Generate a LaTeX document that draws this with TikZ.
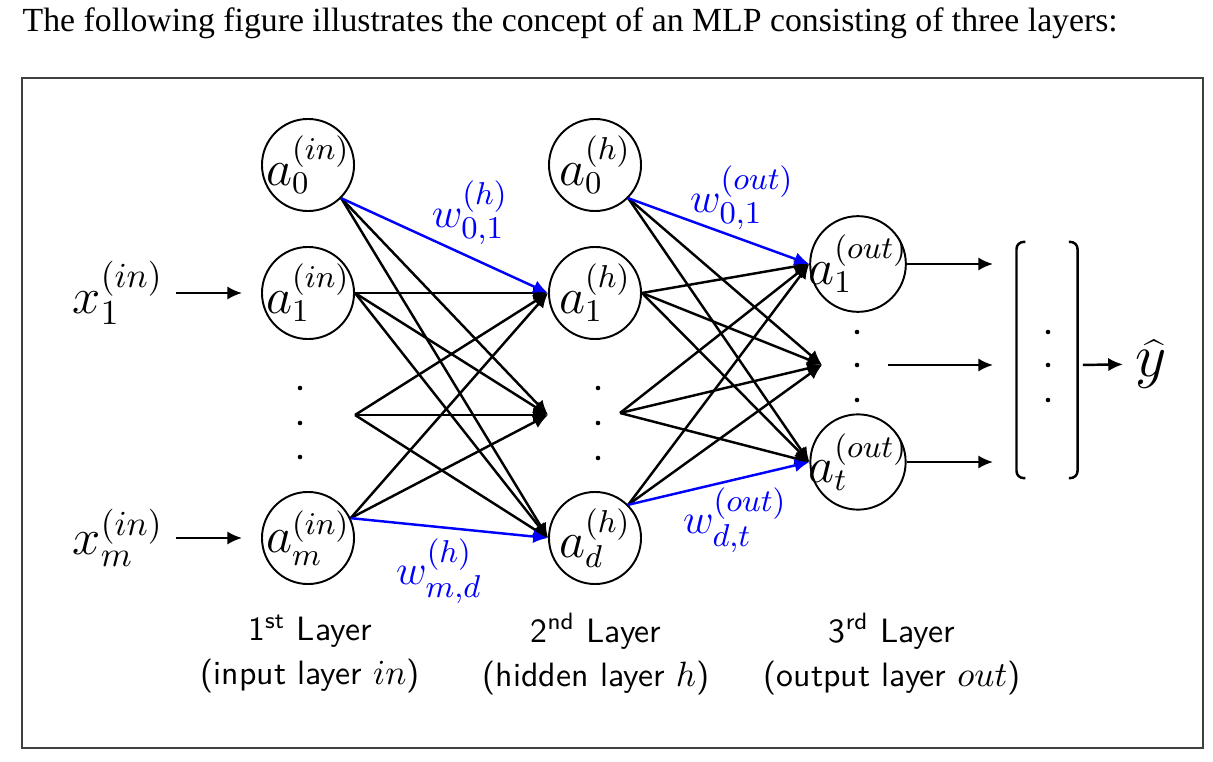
\documentclass[tikz,border=0pt]{standalone}
\usepackage{fontspec}
\setmainfont{Liberation Serif}
\usepackage{tikz}
\usetikzlibrary{arrows.meta}

\tikzstyle{neuron} = [circle, draw=black, line width=0.55pt, minimum size=0.92cm, inner sep=-2pt, font=\fontsize{13.5}{16}\selectfont]
\tikzstyle{arrow} = [line width=0.7pt,->,>={Latex[length=4.2pt,width=3.8pt]}]
\tikzstyle{wlabel} = [text=blue, font=\fontsize{13}{15}\selectfont]
\tikzstyle{layer} = [align=center, font=\sffamily\fontsize{9.6}{12.5}\selectfont]

\begin{document}
\begin{tikzpicture}[x=0.01cm,y=-0.01cm]
\useasboundingbox (0,0) rectangle (1213,761);

% Caption and frame
\node (title) [anchor=base west, inner sep=0pt, font=\fontsize{9.6}{12}\selectfont] at (22,32) {The following figure illustrates the concept of an MLP consisting of three layers:};
\draw [line width=0.5pt, draw=black!75] (22,78) rectangle (1203,748);

% Inputs
\node (x1) [font=\fontsize{14}{16}\selectfont] at (118,293) {$x_1^{(in)}$};
\node (xm) [font=\fontsize{14}{16}\selectfont] at (118,538) {$x_m^{(in)}$};

% Neurons
\node (i0) [neuron] at (308,165) {$a_0^{(in)}$};  % input layer
\node (i1) [neuron] at (308,293) {$a_1^{(in)}$};
\node (im) [neuron] at (308,538) {$a_m^{(in)}$};
\node (h0) [neuron] at (595,165) {$a_0^{(h)}$};   % hidden layer
\node (h1) [neuron] at (595,293) {$a_1^{(h)}$};
\node (hd) [neuron] at (595,538) {$a_d^{(h)}$};
\node (o1) [neuron] at (858,264) {$a_1^{(out)}$}; % output layer
\node (ot) [neuron] at (858,462) {$a_t^{(out)}$};

% Hidden middle units (shown by dots)
\coordinate (ifan) at (355,415);
\coordinate (hin) at (548,415);
\coordinate (hfan) at (620,413);
\coordinate (oin) at (822,365);

% Dots
\fill (300,388) circle (0.65pt) (300,423) circle (0.65pt) (300,457) circle (0.65pt);
\fill (598,388) circle (0.65pt) (598,423) circle (0.65pt) (598,458) circle (0.65pt);
\fill (857,332) circle (0.65pt) (857,365) circle (0.65pt) (857,400) circle (0.65pt);

% Input arrows
\draw [arrow, shorten >=5.4pt] (x1) -- (i1);
\draw [arrow, shorten >=5.4pt] (xm) -- (im);

% Input layer to hidden layer
\draw [arrow] (i0.south east) -- (hin);
\draw [arrow] (i0.south east) -- (hd.west);
\draw [arrow] (i1.east) -- (h1.west);
\draw [arrow] (i1.east) -- (hin);
\draw [arrow] (i1.east) -- (hd.west);
\draw [arrow] (ifan) -- (h1.west);
\draw [arrow] (ifan) -- (hin);
\draw [arrow] (ifan) -- (hd.west);
\draw [arrow] (im.25) -- (h1.west);
\draw [arrow] (im.25) -- (hin);
\draw [arrow, blue] (i0.south east) -- (h1.west);
\draw [arrow, blue] (im.25) -- (hd.west);

% Hidden layer to output layer
\draw [arrow] (h0.south east) -- (oin);
\draw [arrow] (h0.south east) -- (ot.west);
\draw [arrow] (h1.east) -- (o1.west);
\draw [arrow] (h1.east) -- (oin);
\draw [arrow] (h1.east) -- (ot.west);
\draw [arrow] (hfan) -- (o1.west);
\draw [arrow] (hfan) -- (oin);
\draw [arrow] (hfan) -- (ot.west);
\draw [arrow] (hd.north east) -- (o1.west);
\draw [arrow] (hd.north east) -- (oin);
\draw [arrow, blue] (h0.south east) -- (o1.west);
\draw [arrow, blue] (hd.north east) -- (ot.west);

% Weight labels
\node (w01h) [wlabel] at (470,213) {$w_{0,1}^{(h)}$};
\node (wmdh) [wlabel] at (439,571) {$w_{m,d}^{(h)}$};
\node (w01o) [wlabel] at (742,198) {$w_{0,1}^{(out)}$};
\node (wdto) [wlabel] at (735,520) {$w_{d,t}^{(out)}$};

% Output vector
\coordinate (y1) at (993,264);
\coordinate (ymid) at (888,365);
\coordinate (ym) at (993,365);
\coordinate (yt) at (993,462);
\draw [arrow] (o1) -- (y1);
\draw [arrow] (ymid) -- (ym);
\draw [arrow] (ot) -- (yt);

\node (vec) [minimum width=0.61cm, minimum height=2.36cm, inner sep=0pt, outer sep=0pt] at (1047,360) {};
\draw [line width=0.7pt, rounded corners=2pt] ([xshift=2.5pt]vec.north west) -- (vec.north west) -- (vec.south west) -- ([xshift=2.5pt]vec.south west);
\draw [line width=0.7pt, rounded corners=2pt] ([xshift=-2.5pt]vec.north east) -- (vec.north east) -- (vec.south east) -- ([xshift=-2.5pt]vec.south east);
\fill (1048,332) circle (0.65pt) (1048,365) circle (0.65pt) (1048,400) circle (0.65pt);

\node (yhat) [font=\fontsize{17}{19}\selectfont] at (1151,364) {$\widehat{y}$};
\draw [arrow, shorten <=1.5pt] (vec.east |- ym) -- (yhat);

% Layer captions
\node (l1) [layer] at (310,654) {1\textsuperscript{st} Layer\\(input layer $in$)};
\node (l2) [layer] at (596,654) {2\textsuperscript{nd} Layer\\(hidden layer $h$)};
\node (l3) [layer] at (892,654) {3\textsuperscript{rd} Layer\\(output layer $out$)};

\end{tikzpicture}
\end{document}
